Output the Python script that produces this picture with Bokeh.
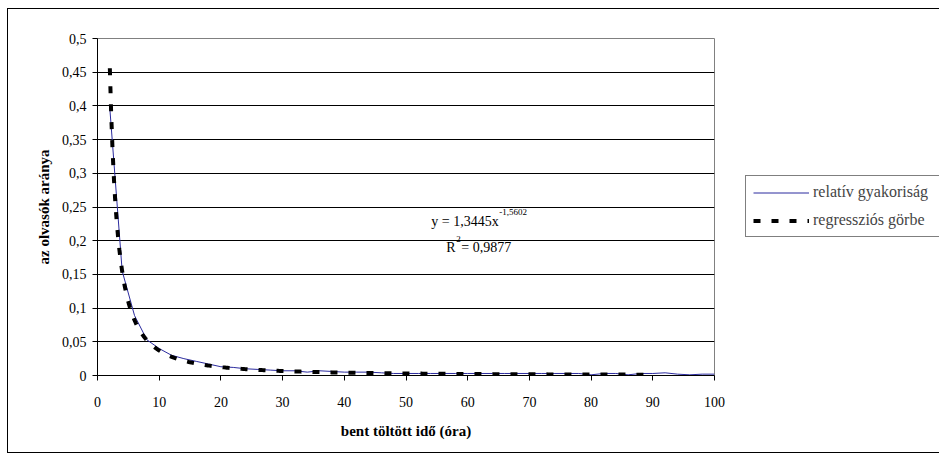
import numpy as np
from bokeh.plotting import figure
from bokeh.models import (Range1d, FixedTicker, Legend, LegendItem, Label)
from bokeh.embed import file_html
from bokeh.resources import INLINE

# ---- data ----
hours = [2, 4, 6, 8, 10, 12, 14, 16, 18, 20,
         22, 24, 26, 28, 30, 32, 34, 36, 38, 40,
         42, 44, 46, 48, 50, 52, 54, 56, 58, 60,
         62, 64, 66, 68, 70, 72, 74, 76, 78, 80,
         82, 84, 86, 88, 90, 92, 94, 96, 98, 100]
rel_freq = [0.396, 0.155, 0.089, 0.053, 0.040, 0.030, 0.025, 0.021, 0.017, 0.013,
            0.012, 0.010, 0.009, 0.008, 0.007, 0.007, 0.005, 0.007, 0.006, 0.005,
            0.005, 0.005, 0.004, 0.003, 0.003, 0.003, 0.003, 0.003, 0.003, 0.003,
            0.003, 0.003, 0.003, 0.003, 0.003, 0.003, 0.003, 0.003, 0.003, 0.001,
            0.003, 0.003, 0.001, 0.003, 0.003, 0.004, 0.002, 0.001, 0.002, 0.002]

# power-law trendline shown on the chart: y = a * x^b
fit_a = 1.3445
fit_b = -1.5602
fit_r2 = 0.9877
fit_x_start = 2
fit_x_end = 90

x_ticks = [0, 10, 20, 30, 40, 50, 60, 70, 80, 90, 100]
y_ticks = [0, 0.05, 0.1, 0.15, 0.2, 0.25, 0.3, 0.35, 0.4, 0.45, 0.5]
y_tick_labels = ["0", "0,05", "0,1", "0,15", "0,2", "0,25", "0,3", "0,35",
                 "0,4", "0,45", "0,5"]

series_names = ["relatív gyakoriság", "regressziós görbe"]
x_title = "bent töltött idő (óra)"
y_title = "az olvasók aránya"

FONT = "Liberation Serif"

fit_x = np.linspace(fit_x_start, fit_x_end, 400)
fit_y = fit_a * fit_x ** fit_b

p = figure(width=929, height=443, output_backend="svg", toolbar_location=None,
           x_range=Range1d(0, 100), y_range=Range1d(0, 0.5),
           min_border_left=89, min_border_top=29, min_border_bottom=77,
           min_border_right=223, frame_width=617, frame_height=337)
p.styles = {"border": "1px solid black", "margin": "8px 0 0 7px"}
p.background_fill_color = "white"
p.border_fill_color = "white"
p.outline_line_color = "#808080"
p.outline_line_width = 1

r1 = p.line(hours, rel_freq, line_color="#2b2b9e", line_width=1)
r2 = p.line(fit_x, fit_y, line_color="black", line_width=4, line_dash="7 11")

p.xgrid.grid_line_color = None
p.ygrid.grid_line_color = "black"
p.ygrid.grid_line_width = 1
p.ygrid.ticker = FixedTicker(ticks=y_ticks)

p.xaxis.ticker = FixedTicker(ticks=x_ticks)
p.yaxis.ticker = FixedTicker(ticks=y_ticks)
p.yaxis.major_label_overrides = {t: l for t, l in zip(y_ticks, y_tick_labels)}

for ax in (p.xaxis, p.yaxis):
    ax.axis_line_color = "black"
    ax.major_tick_line_color = "black"
    ax.major_tick_out = 5
    ax.major_tick_in = 0
    ax.minor_tick_line_color = None
    ax.major_label_text_font = FONT
    ax.major_label_text_font_size = "14px"
    ax.major_label_text_color = "black"
    ax.axis_label_text_font = FONT
    ax.axis_label_text_font_size = "15px"
    ax.axis_label_text_font_style = "bold"
    ax.axis_label_text_color = "black"

p.xaxis.major_label_standoff = 16
p.yaxis.major_label_standoff = 6
p.xaxis.axis_label = x_title
p.yaxis.axis_label = y_title
p.xaxis.axis_label_standoff = 13
p.yaxis.axis_label_standoff = 7

legend = Legend(items=[LegendItem(label=series_names[0], renderers=[r1]),
                       LegendItem(label=series_names[1], renderers=[r2])],
                location=(31, 138), border_line_color="black",
                border_line_width=1, glyph_width=56, glyph_height=17,
                label_height=17, label_width=119,
                label_text_font=FONT, label_text_font_size="16px",
                label_standoff=4, padding=7, spacing=10, margin=0,
                background_fill_color="white", background_fill_alpha=1)
p.add_layout(legend, "right")

# trendline equation
eq_x = 54.1
eq_y = 0.2285
lab_kw = dict(text_font=FONT, text_color="black", text_baseline="alphabetic",
              text_align="left")
p.add_layout(Label(x=eq_x, y=eq_y, text="y = " + f"{fit_a}".replace(".", ",") + "x",
                   text_font_size="14px", **lab_kw))
p.add_layout(Label(x=eq_x, y=eq_y, x_offset=68, y_offset=9,
                   text=f"{fit_b}".replace(".", ","), text_font_size="9px", **lab_kw))
r2_y = eq_y - 0.038
p.add_layout(Label(x=eq_x, y=r2_y, x_offset=15, text="R",
                   text_font_size="14px", **lab_kw))
p.add_layout(Label(x=eq_x, y=r2_y, x_offset=25, y_offset=8, text="2",
                   text_font_size="9px", **lab_kw))
p.add_layout(Label(x=eq_x, y=r2_y, x_offset=30,
                   text=" = " + f"{fit_r2}".replace(".", ","),
                   text_font_size="14px", **lab_kw))

open("out.html", "w").write(file_html(p, INLINE))
